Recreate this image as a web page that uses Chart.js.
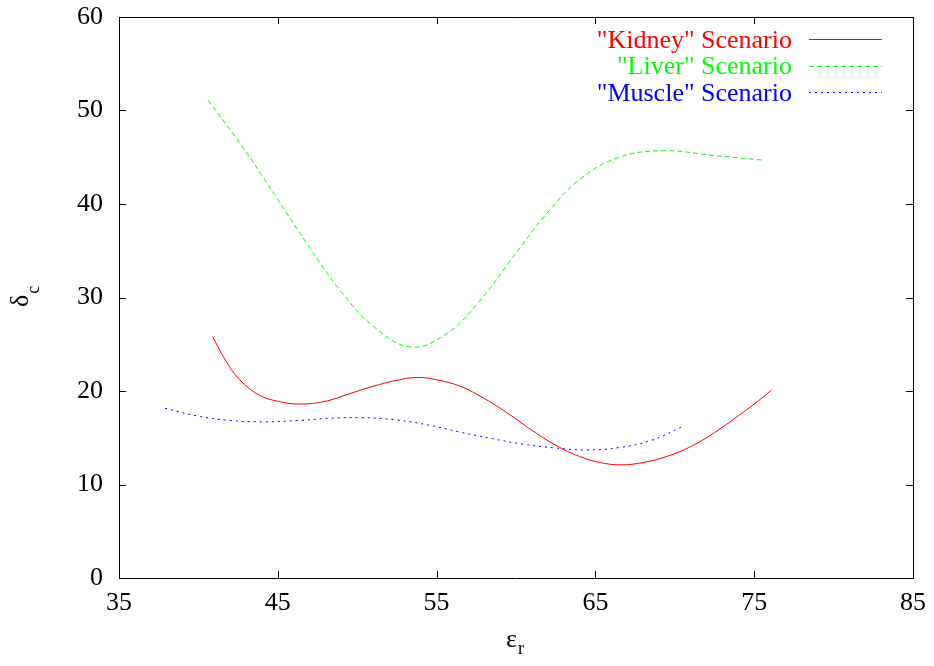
<!DOCTYPE html>
<html><head><meta charset="utf-8">
<script src="https://cdn.jsdelivr.net/npm/chart.js@4/dist/chart.umd.min.js"></script>
<style>html,body{margin:0;padding:0;background:#fff}</style>
</head><body>
<canvas id="c" width="934" height="666"></canvas>
<script>
const seriesNames = ['"Kidney" Scenario', '"Liver" Scenario', '"Muscle" Scenario'];
const seriesColors = ['#ff0000', '#00ff00', '#0000ff'];
const xTicks = [35, 45, 55, 65, 75, 85];
const yTicks = [0, 10, 20, 30, 40, 50, 60];

const kidneyX = [40.9, 41.7, 42.6, 43.8, 45.0, 46.4, 48.0, 49.5, 51.0, 52.5, 53.8, 55.0, 56.5, 58.0, 59.5, 61.0, 62.5, 64.0, 65.3, 66.6, 68.0, 69.5, 71.0, 72.5, 74.0, 75.0, 76.1];
const kidneyY = [25.8, 23.3, 21.2, 19.6, 18.9, 18.6, 18.9, 19.7, 20.5, 21.15, 21.45, 21.2, 20.5, 19.2, 17.6, 15.8, 14.2, 13.0, 12.35, 12.1, 12.35, 13.0, 14.05, 15.55, 17.35, 18.6, 20.1];

const liverX = [40.6, 42.7, 44.8, 46.9, 49.0, 51.1, 53.4, 55.6, 57.7, 59.8, 61.9, 64.0, 66.5, 69.3, 72.4, 75.5];
const liverY = [51.1, 46.3, 41.0, 35.6, 30.6, 26.8, 24.7, 26.1, 29.6, 34.3, 38.9, 42.6, 45.0, 45.7, 45.2, 44.7];

const muscleX = [37.9, 40.0, 42.0, 44.0, 46.3, 48.5, 50.3, 52.5, 54.5, 56.5, 58.5, 60.5, 62.5, 64.5, 66.5, 68.5, 70.5];
const muscleY = [18.15, 17.3, 16.85, 16.7, 16.85, 17.1, 17.15, 16.9, 16.35, 15.6, 14.9, 14.3, 13.9, 13.7, 13.95, 14.7, 16.2];

function pts(xs, ys) { return xs.map((x, i) => ({x: x, y: ys[i]})); }

const FONT = '"Liberation Serif", "Times New Roman", serif';
const dashes = [[], [5, 3], [2, 4]];

const framePlugin = {
  id: 'frame',
  afterDatasetsDraw(chart) {
    const ctx = chart.ctx, a = chart.chartArea;
    const xs = chart.scales.x, ys = chart.scales.y;
    ctx.save();
    ctx.strokeStyle = '#000';
    ctx.lineWidth = 1;
    ctx.setLineDash([]);
    ctx.beginPath();
    ctx.rect(Math.round(a.left) + 0.5, Math.round(a.top) + 0.5, Math.round(a.right - a.left), Math.round(a.bottom - a.top));
    ctx.stroke();
    const tl = 7;
    ctx.beginPath();
    xs.ticks.forEach(t => {
      const px = Math.round(xs.getPixelForValue(t.value)) + 0.5;
      ctx.moveTo(px, a.bottom); ctx.lineTo(px, a.bottom - tl);
      ctx.moveTo(px, a.top); ctx.lineTo(px, a.top + tl);
    });
    ys.ticks.forEach(t => {
      const py = Math.round(ys.getPixelForValue(t.value)) + 0.5;
      ctx.moveTo(a.left, py); ctx.lineTo(a.left + tl, py);
      ctx.moveTo(a.right, py); ctx.lineTo(a.right - tl, py);
    });
    ctx.stroke();

    // legend
    ctx.font = '26px ' + FONT;
    ctx.textAlign = 'right';
    ctx.textBaseline = 'middle';
    seriesNames.forEach((name, i) => {
      const y = 41 + i * 26.5;
      const ly = Math.round(y - 2);
      ctx.fillStyle = seriesColors[i];
      ctx.fillText(name, 792, y);
      if (dashes[i].length === 0) {
        ctx.fillRect(809, ly, 73, 1);
      } else {
        ctx.strokeStyle = seriesColors[i];
        ctx.lineWidth = 1;
        ctx.setLineDash(dashes[i]);
        ctx.beginPath();
        ctx.moveTo(809, ly + 0.5);
        ctx.lineTo(882, ly + 0.5);
        ctx.stroke();
      }
    });
    ctx.setLineDash([]);

    // axis titles
    ctx.fillStyle = '#000';
    ctx.textAlign = 'left';
    ctx.textBaseline = 'alphabetic';
    ctx.save();
    ctx.translate(28, 307);
    ctx.rotate(-Math.PI / 2);
    ctx.font = '26px ' + FONT;
    ctx.fillText('δ', 0, 0);
    const w = ctx.measureText('δ').width;
    ctx.font = '18px ' + FONT;
    ctx.fillText('c', w + 1, 11);
    ctx.restore();
    ctx.font = '26px ' + FONT;
    ctx.fillText('ε', 506, 647);
    const we = ctx.measureText('ε').width;
    ctx.font = '18px ' + FONT;
    ctx.fillText('r', 506 + we + 1, 654);
    ctx.restore();
  }
};

new Chart(document.getElementById('c'), {
  type: 'line',
  data: {
    datasets: [
      {label: seriesNames[0], data: pts(kidneyX, kidneyY), borderColor: seriesColors[0], borderWidth: 1, tension: 0.4, pointRadius: 0, fill: false},
      {label: seriesNames[1], data: pts(liverX, liverY), borderColor: seriesColors[1], borderWidth: 1, borderDash: dashes[1], tension: 0.4, pointRadius: 0, fill: false},
      {label: seriesNames[2], data: pts(muscleX, muscleY), borderColor: seriesColors[2], borderWidth: 1, borderDash: dashes[2], tension: 0.4, pointRadius: 0, fill: false}
    ]
  },
  options: {
    responsive: false,
    animation: false,
    devicePixelRatio: 1,
    layout: {padding: {left: 0, top: 17, right: 21, bottom: 0}},
    plugins: {legend: {display: false}, tooltip: {enabled: false}},
    scales: {
      x: {
        type: 'linear', min: 35, max: 85,
        afterBuildTicks: s => { s.ticks = xTicks.map(v => ({value: v})); },
        afterFit: s => { s.height = 88; s.paddingLeft = 0; s.paddingRight = 0; },
        grid: {display: false, drawTicks: false, tickLength: 0}, border: {display: false},
        ticks: {color: '#000', font: {family: FONT, size: 26}, padding: 10, maxRotation: 0}
      },
      y: {
        type: 'linear', min: 0, max: 60,
        afterBuildTicks: s => { s.ticks = yTicks.map(v => ({value: v})); },
        afterFit: s => { s.width = 119; s.paddingTop = 0; s.paddingBottom = 0; },
        grid: {display: false, drawTicks: false, tickLength: 0}, border: {display: false},
        ticks: {color: '#000', font: {family: FONT, size: 26}, padding: 16}
      }
    }
  },
  plugins: [framePlugin]
});
</script>
</body></html>
